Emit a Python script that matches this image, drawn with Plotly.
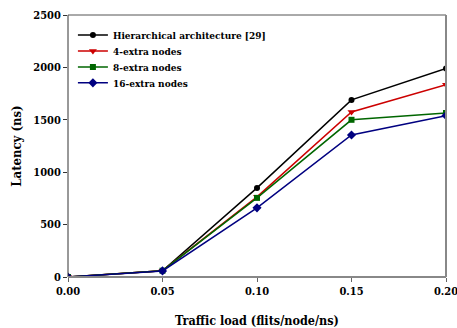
import plotly.graph_objects as go

traffic = [0.00, 0.05, 0.10, 0.15, 0.20]
hier = [0, 60, 850, 1690, 1990]
extra4 = [0, 60, 765, 1575, 1835]
extra8 = [0, 60, 755, 1500, 1565]
extra16 = [0, 58, 660, 1355, 1540]

x_ticks = ["0.00", "0.05", "0.10", "0.15", "0.20"]
y_ticks = [0, 500, 1000, 1500, 2000, 2500]

series = [
    ("Hierarchical architecture [29]", hier, "black", "circle", 6),
    ("4-extra nodes", extra4, "#cc0000", "triangle-down", 7),
    ("8-extra nodes", extra8, "#006600", "square", 6),
    ("16-extra nodes", extra16, "#000080", "diamond", 7),
]

FONT = "DejaVu Serif Condensed"
legend_ids = ["legend", "legend2", "legend3", "legend4"]
legend_y = [0.924, 0.863, 0.802, 0.741]

fig = go.Figure()
for (name, ys, color, sym, size), lid in zip(series, legend_ids):
    fig.add_trace(go.Scatter(
        x=traffic, y=ys, name="<b>" + name + "</b>", mode="lines+markers",
        line=dict(color=color, width=1.5),
        marker=dict(symbol=sym, size=size, color=color),
        legend=lid,
    ))

legend_style = dict(xanchor="left", yanchor="middle", bgcolor="rgba(0,0,0,0)",
                    font=dict(family=FONT, size=10, color="black"), itemwidth=30)
layout_legends = {lid: dict(x=0.013, y=ly, **legend_style)
                  for lid, ly in zip(legend_ids, legend_y)}

fig.update_layout(
    width=457, height=328,
    margin=dict(l=68, r=11, t=15, b=51, autoexpand=False),
    paper_bgcolor="white", plot_bgcolor="white",
    font=dict(family=FONT, color="black"),
    showlegend=True,
    **layout_legends,
)

# frame: dark thin lines on left/top, heavier grey on right/bottom
fig.add_shape(type="line", xref="paper", yref="paper", x0=0, x1=0, y0=0, y1=1,
              line=dict(color="#333", width=1))
fig.add_shape(type="line", xref="paper", yref="paper", x0=0, x1=1, y0=1, y1=1,
              line=dict(color="#555", width=1))
fig.add_shape(type="line", xref="paper", yref="paper", x0=1, x1=1, y0=0, y1=1,
              line=dict(color="#888", width=2))
fig.add_shape(type="line", xref="paper", yref="paper", x0=0, x1=1, y0=0, y1=0,
              line=dict(color="#888", width=2))

fig.update_xaxes(
    range=[0, 0.2], tickvals=traffic,
    ticktext=["<b>" + t + "</b>" for t in x_ticks],
    ticks="outside", ticklen=4, tickcolor="#666", tickwidth=1,
    automargin=False, ticklabeloverflow="allow",
    showline=False, showgrid=False, zeroline=False,
    tickfont=dict(family=FONT, size=11, color="black"),
    title=dict(text="<b>Traffic load (flits/node/ns)</b>",
               font=dict(family=FONT, size=12.5, color="black"), standoff=19),
)
fig.update_yaxes(
    range=[0, 2500], tickvals=y_ticks,
    ticktext=["<b>" + str(v) + "</b>" for v in y_ticks],
    ticks="outside", ticklen=4, tickcolor="#333", tickwidth=1,
    automargin=False, ticklabeloverflow="allow",
    showline=False, showgrid=False, zeroline=False,
    tickfont=dict(family=FONT, size=11, color="black"),
    title=dict(text="<b>Latency (ns)</b>",
               font=dict(family=FONT, size=13, color="black"), standoff=8),
)

fig.write_html("out.html")
